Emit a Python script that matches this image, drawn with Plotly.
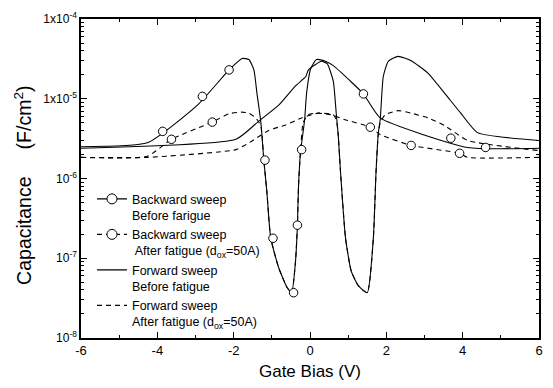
import plotly.graph_objects as go

# ---------------- data ----------------
# Backward sweep, before fatigue (solid)
bb_v = [-6.0, -4.26, -2.95, -2.12, -1.78, -1.60, -1.47, -1.39, -1.29, -1.21, -1.13, -1.03,
        -0.82, -0.60, -0.48, -0.38, -0.33, -0.30, -0.25, -0.14, -0.09, 0.02, 0.17, 0.40,
        0.61, 1.06, 1.40, 1.84, 4.13, 6.0]
bb_c = [2.5e-6, 2.8e-6, 8.3e-6, 2.3e-5, 3.2e-5, 3.1e-5, 2.3e-5, 1.17e-5, 5.2e-6, 1.7e-6, 6.8e-7, 1.8e-7,
        7.6e-8, 4.3e-8, 3.7e-8, 9.1e-8, 2.6e-7, 8.3e-7, 2.1e-6, 5.5e-6, 1.17e-5, 2.4e-5, 3.1e-5, 2.95e-5,
        2.6e-5, 1.66e-5, 1.15e-5, 5.75e-6, 2.45e-6, 2.4e-6]
bb_mv = [-3.86, -2.82, -2.12, -1.18, -0.43, -0.22, 1.40, 3.69, 4.60]
bb_mc = [3.9e-6, 1.07e-5, 2.3e-5, 1.7e-6, 3.7e-8, 2.3e-6, 1.15e-5, 3.2e-6, 2.45e-6]

# Backward sweep, after fatigue (dashed)
ba_v = [-6.0, -4.26, -3.63, -2.56, -2.12, -1.80, -1.60, -1.42, -1.29, -1.24, -1.21, -1.13, -1.03,
        -0.82, -0.60, -0.48, -0.38, -0.33, -0.30, -0.25, -0.18, -0.05, 0.17, 0.54, 0.90, 1.58,
        1.84, 2.65, 3.92, 4.13, 6.0]
ba_c = [1.84e-6, 1.9e-6, 3.1e-6, 5.1e-6, 6.5e-6, 6.8e-6, 6.6e-6, 5.75e-6, 4.6e-6, 2.8e-6, 1.7e-6, 6.8e-7, 1.8e-7,
        7.6e-8, 4.3e-8, 3.7e-8, 9.1e-8, 2.6e-7, 8.3e-7, 2.1e-6, 5.0e-6, 6.3e-6, 6.6e-6, 6.3e-6, 5.5e-6, 4.4e-6,
        3.55e-6, 2.6e-6, 2.07e-6, 1.84e-6, 1.84e-6]
ba_mv = [-3.63, -2.56, -0.97, -0.33, 1.58, 2.65, 3.92]
ba_mc = [3.1e-6, 5.1e-6, 1.78e-7, 2.6e-7, 4.4e-6, 2.6e-6, 2.07e-6]

# Forward sweep, before fatigue (solid)
fb_v = [-6.0, -1.94, -1.34, -0.82, -0.38, -0.11, -0.04, 0.30, 0.45, 0.61, 0.69, 0.74, 0.80, 0.93,
        1.08, 1.27, 1.50, 1.66, 1.73, 1.79, 1.84, 1.92, 2.05, 2.31, 2.65, 3.09, 3.53, 3.95, 4.39, 6.0]
fb_c = [2.4e-6, 3.1e-6, 5.25e-6, 8.3e-6, 1.45e-5, 1.9e-5, 2.3e-5, 2.95e-5, 2.75e-5, 1.66e-5, 6.3e-6, 3.5e-6, 1.2e-6, 1.8e-7,
        6.9e-8, 4.5e-8, 3.7e-8, 1.8e-7, 1.2e-6, 3.7e-6, 5.5e-6, 1.9e-5, 2.95e-5, 3.4e-5, 3.0e-5, 2.1e-5, 1.17e-5, 6.6e-6, 3.76e-6, 3.0e-6]

# Forward sweep, after fatigue (dashed)
fa_v = [-6.0, -4.26, -1.94, -1.60, -1.08, -0.64, -0.22, 0.22, 0.61, 0.69, 0.74, 0.80, 0.93, 1.08,
        1.27, 1.50, 1.66, 1.73, 1.79, 1.84, 1.97, 2.31, 2.65, 3.09, 3.53, 4.13, 6.0]
fa_c = [1.84e-6, 1.84e-6, 2.3e-6, 2.8e-6, 4.0e-6, 4.7e-6, 5.75e-6, 6.6e-6, 6.3e-6, 5.4e-6, 3.5e-6, 1.2e-6, 1.8e-7, 6.9e-8,
        4.5e-8, 3.7e-8, 1.8e-7, 1.2e-6, 3.7e-6, 5.0e-6, 6.3e-6, 7.1e-6, 6.6e-6, 5.75e-6, 4.6e-6, 3.0e-6, 2.24e-6]

legend_names = [
    "Backward sweep<br>Before farigue",
    "Backward sweep<br> After fatigue (d<sub>ox</sub>=50A)",
    "Forward sweep<br>Before fatigue",
    "Forward sweep<br>After fatigue (d<sub>ox</sub>=50A)",
]

x_ticks = [-6, -4, -2, 0, 2, 4, 6]
y_tickvals = [1e-8, 1e-7, 1e-6, 1e-5, 1e-4]
y_ticktext = ["10<sup>-8</sup>", "10<sup>-7</sup>", "10<sup>-6</sup>",
              "1x10<sup>-5</sup>", "1x10<sup>-4</sup>"]
x_title = "Gate Bias (V)"
y_title = "Capacitance\u00a0\u00a0\u00a0\u00a0\u00a0(F/cm<sup>2</sup>)"

# ---------------- figure ----------------
FONT = "Arial, Liberation Sans, Helvetica, sans-serif"
DASH = "5px,4px"
fig = go.Figure()

curves = [(bb_v, bb_c, "solid"), (ba_v, ba_c, DASH), (fb_v, fb_c, "solid"), (fa_v, fa_c, DASH)]
for v, c, d in curves:
    fig.add_trace(go.Scatter(x=v, y=c, mode="lines", showlegend=False,
                             line=dict(color="black", width=1.1, dash=d, shape="spline", smoothing=0.5)))

mk = dict(symbol="circle", size=8.5, color="white", line=dict(color="black", width=1))
for v, c in [(bb_mv, bb_mc), (ba_mv, ba_mc)]:
    fig.add_trace(go.Scatter(x=v, y=c, mode="markers", marker=mk, showlegend=False))

# legend-only entries
leg_styles = [("lines+markers", "solid"), ("lines+markers", DASH), ("lines", "solid"), ("lines", DASH)]
for name, (mode, d) in zip(legend_names, leg_styles):
    fig.add_trace(go.Scatter(x=[None], y=[None], mode=mode, name=name,
                             line=dict(color="black", width=1.1, dash=d),
                             marker=dict(symbol="circle", size=10, color="white",
                                         line=dict(color="black", width=1))))

fig.update_layout(
    width=553, height=388,
    margin=dict(l=81, r=10, t=15, b=50),
    paper_bgcolor="white", plot_bgcolor="white",
    font=dict(family=FONT, color="black", size=13),
    showlegend=True,
    legend=dict(x=0.024, y=0.482, xanchor="left", yanchor="top",
                bgcolor="rgba(0,0,0,0)", font=dict(size=12.5, family=FONT),
                valign="top", itemwidth=30, tracegroupgap=0),
    annotations=[dict(text=y_title, xref="paper", yref="paper", x=-0.128, y=0.478,
                      xanchor="center", yanchor="middle", textangle=-90, showarrow=False,
                      font=dict(size=19.5, family=FONT))],
)

fig.update_xaxes(range=[-6, 6], tickmode="array", tickvals=x_ticks,
                 ticktext=[str(t) for t in x_ticks],
                 ticks="inside", ticklen=6, tickwidth=1, tickcolor="black",
                 showline=True, linecolor="black", linewidth=1.5, mirror="ticks",
                 showgrid=False, zeroline=False, tickfont=dict(size=13),
                 minor=dict(tickmode="array", tickvals=[-5, -3, -1, 1, 3, 5],
                            ticks="inside", ticklen=3, tickcolor="black"),
                 title=dict(text=x_title, font=dict(size=17), standoff=8))

minor_y = [k * 10.0 ** e for e in range(-8, -4) for k in range(2, 10)]
fig.update_yaxes(type="log", range=[-8, -4], tickmode="array", tickvals=y_tickvals,
                 ticktext=y_ticktext, ticks="inside", ticklen=6, tickwidth=1, tickcolor="black",
                 showline=True, linecolor="black", linewidth=1.5, mirror="ticks",
                 showgrid=False, zeroline=False, tickfont=dict(size=12),
                 minor=dict(tickmode="array", tickvals=minor_y,
                            ticks="inside", ticklen=3, tickcolor="black"))

fig.write_html("out.html")
